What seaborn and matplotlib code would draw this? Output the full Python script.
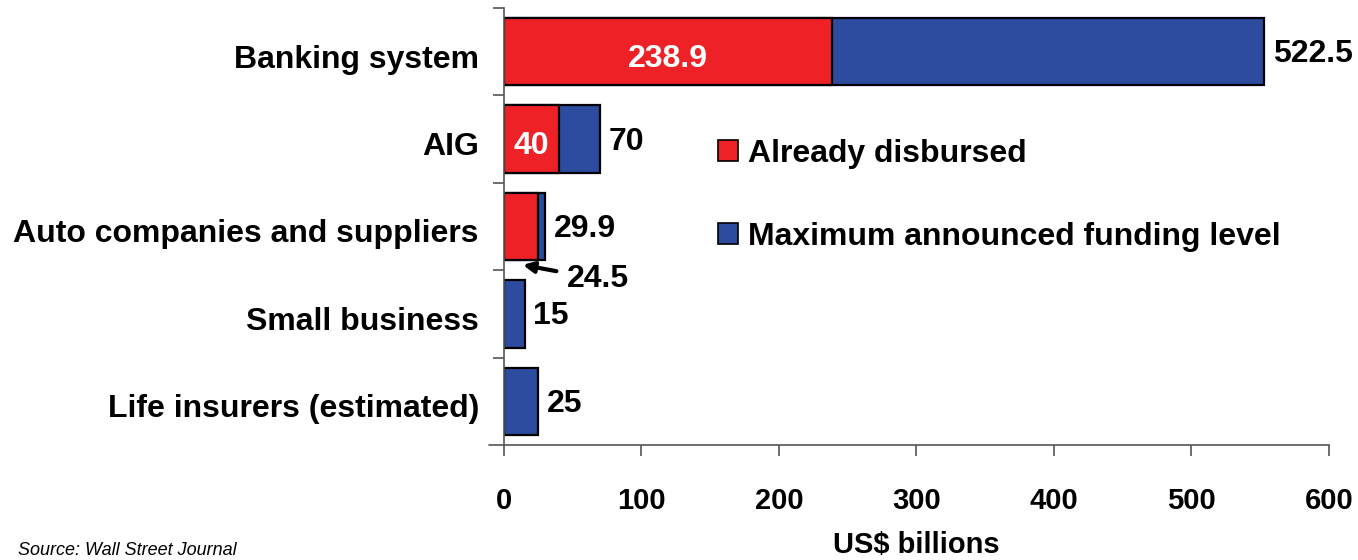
import matplotlib
matplotlib.use("Agg")
import matplotlib.pyplot as plt
import seaborn as sns
import pandas as pd
from matplotlib.patches import Patch
from matplotlib.ticker import FixedLocator

# ---- data ----
categories = ["Banking system", "AIG", "Auto companies and suppliers",
              "Small business", "Life insurers (estimated)"]
disbursed = [238.9, 40, 24.5, 0, 0]
max_funding = [553, 70, 29.9, 15, 25]          # bar lengths as drawn
max_labels = ["522.5", "70", "29.9", "15", "25"]
disbursed_labels = ["238.9", "40", "", "", ""]
arrow_label = "24.5"
x_ticks = [0, 100, 200, 300, 400, 500, 600]
legend_labels = ["Already disbursed", "Maximum announced funding level"]

RED = "#EE2226"
BLUE = "#2E4C9F"
AXC = "#555555"

sns.set_theme(style="white")
plt.rcParams["font.family"] = ["Liberation Sans", "DejaVu Sans"]
plt.rcParams["font.weight"] = "bold"
plt.rcParams["text.color"] = "black"
plt.rcParams["axes.labelcolor"] = "black"
plt.rcParams["xtick.labelcolor"] = "black"
plt.rcParams["ytick.labelcolor"] = "black"

fig = plt.figure(figsize=(13.58, 5.6), dpi=100)
ax = fig.add_axes([0.3711, 0.2054, 0.6075, 0.7804])

df = pd.DataFrame({"cat": categories, "max": max_funding, "disb": disbursed})
sns.barplot(data=df, x="max", y="cat", order=categories, color=BLUE,
            saturation=1, edgecolor="black", linewidth=1.6, width=0.77,
            errorbar=None, ax=ax)
red_df = df[df["disb"] > 0]
sns.barplot(data=red_df, x="disb", y="cat", order=categories, color=RED,
            saturation=1, edgecolor="black", linewidth=1.6, width=0.77,
            errorbar=None, ax=ax)

ax.set_xlim(0, 600)
ax.set_ylim(4.5, -0.5)

LBL = 23

# value labels
for i, (v, lab) in enumerate(zip(max_funding, max_labels)):
    ax.annotate(lab, xy=(v, i + 0.03), xytext=(6, 0), textcoords="offset points",
                ha="left", va="center", fontsize=LBL, fontweight="bold",
                color="black")
for i, (v, lab) in enumerate(zip(disbursed, disbursed_labels)):
    if lab:
        ax.text(v / 2, i + 0.08, lab, ha="center", va="center", fontsize=LBL,
                fontweight="bold", color="white")

ax.annotate(arrow_label, xy=(13.8, 2.44), xytext=(45.5, 2.6),
            textcoords="data", ha="left", va="center", fontsize=LBL,
            fontweight="bold", color="black",
            arrowprops=dict(arrowstyle="-|>", color="black", lw=3,
                            mutation_scale=16, shrinkA=5, shrinkB=0))

# axes styling
for s in ["top", "right"]:
    ax.spines[s].set_visible(False)
for s in ["left", "bottom"]:
    ax.spines[s].set_color(AXC)
    ax.spines[s].set_linewidth(1.2)
ax.plot([-0.018, 0], [0, 0], transform=ax.transAxes, color=AXC, lw=1.2,
        clip_on=False)

ax.set_xticks(x_ticks)
ax.set_xticklabels([str(t) for t in x_ticks], fontsize=21, fontweight="bold")
ax.tick_params(axis="x", bottom=True, direction="out", length=8, width=1.2,
               color=AXC, pad=22)

ax.set_yticks([i + 0.05 for i in range(len(categories))])
ax.set_yticklabels(categories, fontsize=LBL, fontweight="bold")
ax.yaxis.set_minor_locator(FixedLocator([-0.5, 0.5, 1.5, 2.5, 3.5]))
ax.tick_params(axis="y", which="major", left=True, length=0, pad=18)
ax.tick_params(axis="y", which="minor", left=True, direction="out",
               length=8, width=1.2, color=AXC)

ax.set_ylabel("")
ax.set_xlabel("US$ billions", fontsize=21, fontweight="bold", labelpad=12)

handles = [Patch(facecolor=RED, edgecolor="black", linewidth=1.2),
           Patch(facecolor=BLUE, edgecolor="black", linewidth=1.2)]
ax.legend(handles, legend_labels, loc="upper left",
          bbox_to_anchor=(0.2594, 0.700), frameon=False, borderpad=0,
          borderaxespad=0, handlelength=0.63, handleheight=0.63,
          handletextpad=0.31, labelspacing=1.66,
          prop={"size": LBL, "weight": "bold"})

fig.text(0.013, 0.002, "Source: Wall Street Journal", fontsize=13,
         style="italic", fontweight="normal", ha="left", va="bottom")

fig.savefig("out.png", dpi=100)
